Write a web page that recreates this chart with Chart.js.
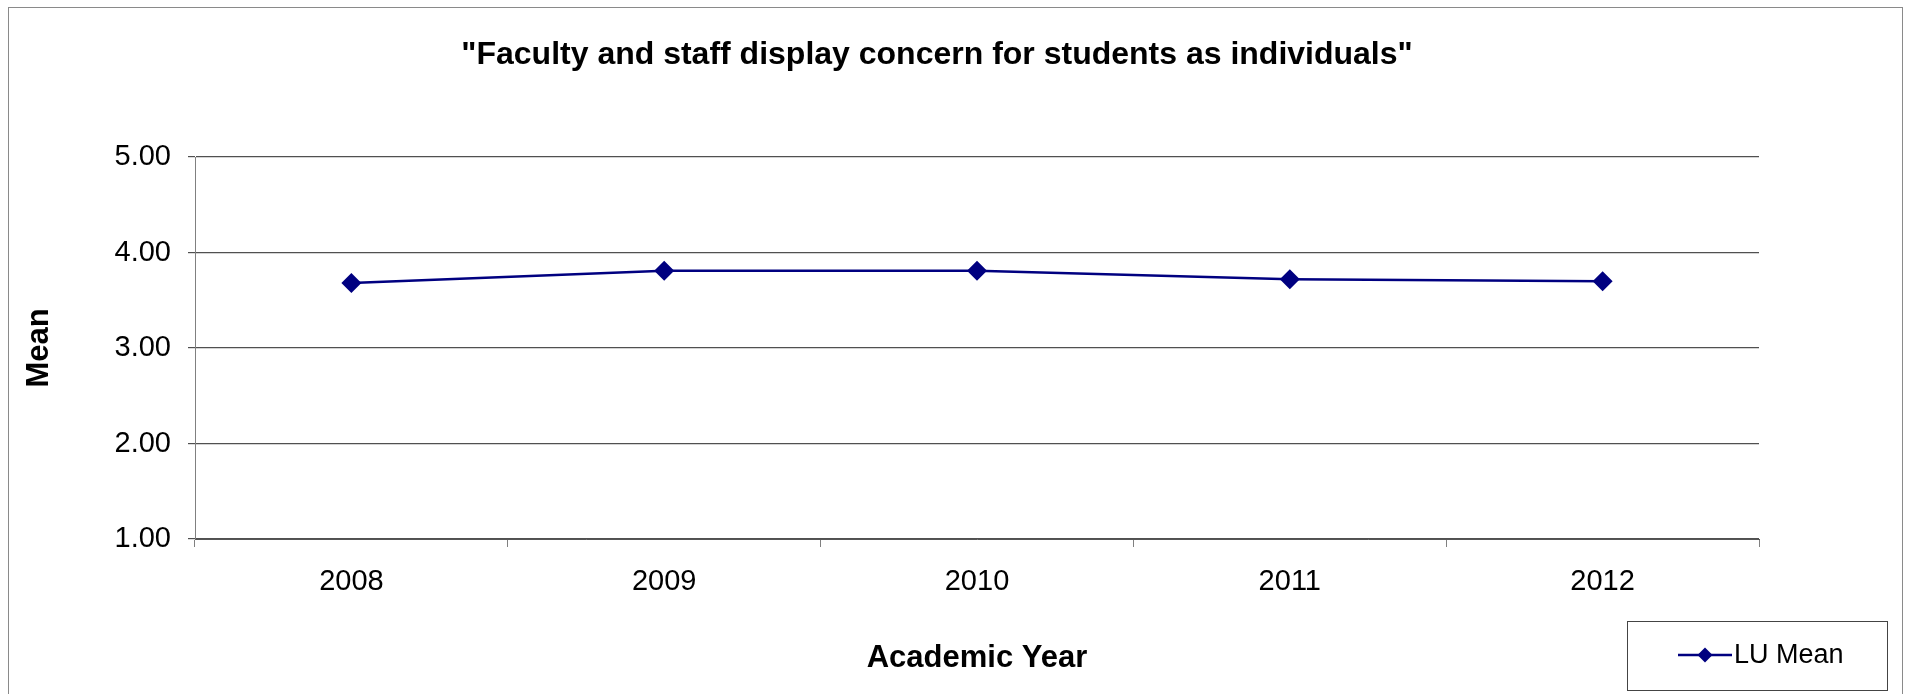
<!DOCTYPE html>
<html>
<head>
<meta charset="utf-8">
<script src="https://cdn.jsdelivr.net/npm/chart.js@4/dist/chart.umd.min.js"></script>
<style>
  html, body { margin: 0; padding: 0; background: #fff; }
  #wrap { width: 1911px; height: 694px; position: relative; }
</style>
</head>
<body>
<div id="wrap"><canvas id="chart" width="1911" height="694"></canvas></div>
<script>
const years = ['2008', '2009', '2010', '2011', '2012'];
const luMean = [3.68, 3.81, 3.81, 3.72, 3.70];
const yTicks = [1, 2, 3, 4, 5];

const chartTitle = '"Faculty and staff display concern for students as individuals"';
const seriesName = 'LU Mean';
const navy = '#000080';
const fontFamily = '"Liberation Sans", Arial, sans-serif';

// white background + thin outer frame
const framePlugin = {
  id: 'frame',
  beforeDraw(chart) {
    const ctx = chart.ctx;
    ctx.save();
    ctx.fillStyle = '#fff';
    ctx.fillRect(0, 0, chart.width, chart.height);
    ctx.strokeStyle = '#8a8a8a';
    ctx.lineWidth = 1;
    ctx.strokeRect(8.5, 7.5, 1894, 720);
    ctx.restore();
  }
};

// boxed legend in the bottom-right corner
const boxLegend = {
  id: 'boxLegend',
  afterDraw(chart) {
    const ds = chart.data.datasets[0];
    const ctx = chart.ctx;
    ctx.save();
    ctx.strokeStyle = '#444';
    ctx.lineWidth = 1;
    ctx.strokeRect(1627.5, 621.5, 260, 69);
    ctx.strokeStyle = ds.borderColor;
    ctx.lineWidth = ds.borderWidth;
    ctx.beginPath();
    ctx.moveTo(1678, 655);
    ctx.lineTo(1732, 655);
    ctx.stroke();
    ctx.fillStyle = ds.pointBackgroundColor;
    Chart.helpers.drawPoint(ctx, { pointStyle: ds.pointStyle, radius: 7.5, borderWidth: 0 }, 1705, 655);
    ctx.fillStyle = '#000';
    ctx.font = '27px ' + fontFamily;
    ctx.textBaseline = 'middle';
    ctx.textAlign = 'left';
    ctx.fillText(ds.label, 1734, 656);
    ctx.restore();
  }
};

new Chart(document.getElementById('chart'), {
  type: 'line',
  data: {
    labels: years,
    datasets: [{
      label: seriesName,
      data: luMean,
      borderColor: navy,
      backgroundColor: navy,
      borderWidth: 2.5,
      pointStyle: 'rectRot',
      pointRadius: 10,
      pointHoverRadius: 10,
      pointBackgroundColor: navy,
      pointBorderColor: navy,
      pointBorderWidth: 0,
      tension: 0,
      fill: false
    }]
  },
  options: {
    responsive: false,
    animation: false,
    events: [],
    layout: { padding: { left: 21, right: 58, top: 0, bottom: 17.4 } },
    plugins: {
      legend: { display: false },
      tooltip: { enabled: false },
      title: {
        display: true,
        text: chartTitle,
        color: '#000',
        font: { family: fontFamily, size: 32, weight: 'bold', lineHeight: 1.2 },
        padding: { top: 35.8, bottom: 82.8 }
      }
    },
    scales: {
      x: {
        type: 'category',
        offset: true,
        grid: {
          offset: true,
          drawOnChartArea: false,
          drawTicks: true,
          tickLength: 8,
          color: '#808080'
        },
        border: { display: true, color: '#555', width: 1 },
        ticks: {
          color: '#000',
          padding: 17.5,
          maxRotation: 0,
          font: { family: fontFamily, size: 29 }
        },
        title: {
          display: true,
          text: 'Academic Year',
          color: '#000',
          padding: { top: 0, bottom: 0 },
          font: { family: fontFamily, size: 31, weight: 'bold', lineHeight: 1.2 }
        },
        afterFit(scale) { scale.height = 137.6; }
      },
      y: {
        min: yTicks[0],
        max: yTicks[yTicks.length - 1],
        afterBuildTicks(scale) { scale.ticks = yTicks.map(v => ({ value: v })); },
        grid: {
          color: '#505050',
          lineWidth: 1.2,
          drawTicks: true,
          tickLength: 7
        },
        border: { display: true, color: '#808080', width: 1 },
        ticks: {
          color: '#000',
          padding: 17,
          font: { family: fontFamily, size: 29 },
          callback: v => Number(v).toFixed(2)
        },
        title: {
          display: true,
          text: 'Mean',
          color: '#000',
          padding: { top: 0, bottom: 0 },
          font: { family: fontFamily, size: 31, weight: 'bold', lineHeight: 1.2 }
        },
        afterFit(scale) { scale.width = 174; }
      },
      yPad: {
        position: 'right',
        display: true,
        grid: { display: false, drawTicks: false },
        border: { display: false },
        ticks: { display: false },
        afterFit(scale) { scale.width = 94; }
      }
    }
  },
  plugins: [framePlugin, boxLegend]
});
</script>
</body>
</html>
